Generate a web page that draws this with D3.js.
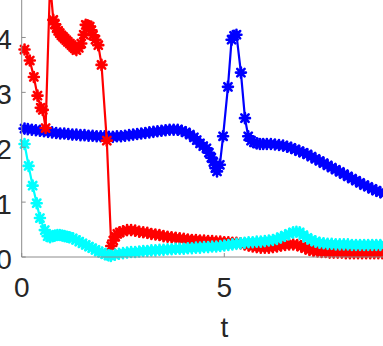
<!DOCTYPE html>
<html>
<head>
<meta charset="utf-8">
<script src="https://cdn.jsdelivr.net/npm/d3@7"></script>
<style>
  html, body { margin: 0; padding: 0; background: #fff; overflow: hidden; }
  svg { display: block; }
  .tick-label { font-family: "Liberation Sans", Arial, sans-serif; font-size: 28px; fill: #262626; }
</style>
</head>
<body>
<div id="chart"></div>
<script>
// tick values
const xTicks = [0, 5];
const yTicks = [0, 1, 2, 3, 4];
const xLabel = 't';

// blue series
const blueT = [0.07, 0.15, 0.25, 0.35, 0.45, 0.55, 0.65, 0.75, 0.85, 0.95, 1.05, 1.15, 1.25, 1.35, 1.45, 1.55, 1.65, 1.75, 1.85, 1.95,
  2.05, 2.15, 2.25, 2.35, 2.45, 2.55, 2.65, 2.75, 2.85, 2.95, 3.05, 3.15, 3.25, 3.35, 3.45, 3.55, 3.65, 3.75, 3.85, 3.95,
  4.05, 4.15, 4.25, 4.32, 4.4, 4.48, 4.56, 4.62, 4.68, 4.73, 4.78, 4.82, 4.89, 4.97, 5.09, 5.18, 5.24, 5.3, 5.41, 5.51, 5.59,
  5.66, 5.73, 5.8, 5.88, 5.96, 6.05, 6.15, 6.25, 6.35, 6.45, 6.55, 6.65, 6.75, 6.85, 6.95, 7.05, 7.15, 7.25, 7.35, 7.45,
  7.55, 7.65, 7.75, 7.85, 7.95, 8.05, 8.15, 8.25, 8.35, 8.45, 8.55, 8.65, 8.75, 8.85, 8.95, 9.05];
const blueY = [2.34, 2.33, 2.32, 2.31, 2.3, 2.29, 2.28, 2.27, 2.26, 2.25, 2.25, 2.24, 2.23, 2.23, 2.22, 2.22, 2.21, 2.21, 2.2, 2.2,
  2.2, 2.19, 2.19, 2.2, 2.2, 2.21, 2.22, 2.23, 2.24, 2.25, 2.26, 2.27, 2.28, 2.29, 2.3, 2.31, 2.32, 2.32, 2.32, 2.3,
  2.27, 2.23, 2.18, 2.13, 2.07, 2.02, 1.98, 1.9, 1.81, 1.73, 1.62, 1.56, 1.68, 2.2, 3.1, 3.96, 4.03, 4.05, 3.36, 2.53, 2.2,
  2.12, 2.09, 2.07, 2.06, 2.06, 2.06, 2.06, 2.05, 2.04, 2.03, 2.01, 1.99, 1.96, 1.93, 1.9, 1.87, 1.83, 1.79, 1.75, 1.71,
  1.67, 1.63, 1.59, 1.55, 1.51, 1.47, 1.43, 1.39, 1.35, 1.31, 1.28, 1.24, 1.21, 1.18, 1.16, 1.14];

// red series
const redT = [0.07, 0.2, 0.3, 0.39, 0.47, 0.52, 0.59, 0.7, 0.78, 0.82, 0.86, 0.9, 0.94, 0.98, 1.02, 1.06, 1.1, 1.14, 1.19, 1.23,
  1.27, 1.31, 1.35, 1.41, 1.47, 1.53, 1.58, 1.63, 1.68, 1.72, 1.76, 1.82, 1.89, 1.97, 2.1, 2.21, 2.26, 2.31, 2.36, 2.42,
  2.5, 2.6, 2.7, 2.8, 2.9, 3.0, 3.1, 3.2, 3.3, 3.4, 3.5, 3.6, 3.7, 3.8, 3.9, 4.0, 4.1, 4.2, 4.3, 4.4, 4.5, 4.6, 4.7,
  4.8, 4.9, 5.0, 5.1, 5.2, 5.3, 5.4, 5.5, 5.6, 5.7, 5.8, 5.9, 6.0, 6.1, 6.2, 6.3, 6.4, 6.5, 6.6, 6.7, 6.8, 6.9, 7.0,
  7.1, 7.2, 7.3, 7.4, 7.5, 7.6, 7.7, 7.8, 7.9, 8.0, 8.1, 8.2, 8.3, 8.4, 8.5, 8.6, 8.7, 8.8, 8.9, 9.0];
const redY = [3.78, 3.58, 3.28, 2.94, 2.72, 2.68, 2.35, 5.0, 4.32, 4.24, 4.17, 4.12, 4.08, 4.04, 4.01, 3.98, 3.95, 3.92, 3.89, 3.86,
  3.83, 3.8, 3.77, 3.81, 3.89, 4.05, 4.23, 4.22, 4.2, 4.13, 4.04, 3.96, 3.86, 3.5, 2.12, 0.2, 0.3, 0.37, 0.42, 0.45,
  0.47, 0.49, 0.49, 0.48, 0.46, 0.45, 0.44, 0.42, 0.41, 0.4, 0.38, 0.37, 0.36, 0.35, 0.34, 0.33, 0.32, 0.31, 0.31, 0.3, 0.3, 0.29, 0.29,
  0.28, 0.28, 0.27, 0.27, 0.26, 0.26, 0.25, 0.23, 0.21, 0.19, 0.18, 0.17, 0.17, 0.17, 0.18, 0.19, 0.21, 0.22, 0.23, 0.23, 0.22, 0.19, 0.16,
  0.13, 0.11, 0.1, 0.09, 0.09, 0.08, 0.08, 0.08, 0.08, 0.07, 0.07, 0.07, 0.07, 0.07, 0.07, 0.07, 0.07, 0.07, 0.07, 0.07];

// cyan series
const cyanT = [0.07, 0.17, 0.27, 0.37, 0.45, 0.57, 0.64, 0.7, 0.76, 0.82, 0.88, 0.94, 1.0, 1.06, 1.12, 1.18, 1.26, 1.34, 1.42, 1.5,
  1.58, 1.66, 1.74, 1.82, 1.9, 1.98, 2.06, 2.14, 2.2, 2.3, 2.4, 2.5, 2.6, 2.7, 2.8, 2.9, 3.0, 3.1, 3.2, 3.3, 3.4, 3.5,
  3.6, 3.7, 3.8, 3.9, 4.0, 4.1, 4.2, 4.3, 4.4, 4.5, 4.6, 4.7, 4.8, 4.9, 5.0, 5.1, 5.2, 5.3, 5.4, 5.5, 5.6, 5.7, 5.8,
  5.9, 6.0, 6.1, 6.2, 6.3, 6.4, 6.5, 6.6, 6.7, 6.78, 6.86, 6.95, 7.05, 7.15, 7.25, 7.35, 7.45, 7.55, 7.65, 7.75, 7.85,
  7.95, 8.05, 8.15, 8.25, 8.35, 8.45, 8.55, 8.65, 8.75, 8.85, 8.95, 9.05];
const cyanY = [2.06, 1.66, 1.3, 0.98, 0.71, 0.49, 0.38, 0.36, 0.38, 0.39, 0.4, 0.4, 0.39, 0.38, 0.37, 0.36, 0.34, 0.31, 0.28, 0.25,
  0.22, 0.19, 0.16, 0.13, 0.1, 0.08, 0.05, 0.03, 0.02, 0.04, 0.06, 0.07, 0.08, 0.09, 0.09, 0.1, 0.11, 0.11, 0.12, 0.12, 0.13, 0.13,
  0.14, 0.14, 0.15, 0.15, 0.15, 0.16, 0.16, 0.17, 0.17, 0.18, 0.18, 0.19, 0.19, 0.2, 0.21, 0.22, 0.23, 0.24, 0.25, 0.26, 0.27, 0.27, 0.28,
  0.28, 0.29, 0.3, 0.31, 0.33, 0.36, 0.39, 0.42, 0.45, 0.46, 0.45, 0.4, 0.35, 0.31, 0.28, 0.26, 0.25, 0.24, 0.24, 0.23, 0.23,
  0.23, 0.23, 0.22, 0.22, 0.22, 0.22, 0.22, 0.22, 0.22, 0.22, 0.22, 0.22];

const W = 383, H = 346;
const svg = d3.select('#chart').append('svg')
  .attr('width', W).attr('height', H);

// axes box: t=0 at x 21.7, t=5 at 224.3 ; y=0 at 257, y=4 at 37.5
let xScale = d3.scaleLinear().domain([0, 10]).range([21.7, 426.9]);
let yScale = d3.scaleLinear().domain([0, 5]).range([257, -17.4]);

const axisColor = '#8c8c8c';

// draw series (blue, red, cyan order)
const series = [
  { t: blueT, y: blueY, color: '#0000ff' },
  { t: redT, y: redY, color: '#ff0000' },
  { t: cyanT, y: cyanY, color: '#00ffff' }
];

// MATLAB-ish '*' marker: plus + cross
const r = 5, rd = r * 0.74;
const starPath = `M${-r},0H${r}M0,${-r}V${r}M${-rd},${-rd}L${rd},${rd}M${-rd},${rd}L${rd},${-rd}`;

const line = d3.line()
  .x(d => xScale(d[0]))
  .y(d => yScale(d[1]));

series.forEach(s => {
  const pts = s.t.map((t, i) => [t, s.y[i]]);
  const g = svg.append('g');
  g.append('path')
    .datum(pts)
    .attr('d', line)
    .attr('fill', 'none')
    .attr('stroke', s.color)
    .attr('stroke-width', 2.2)
    .attr('stroke-linejoin', 'round');
  g.selectAll('path.mk')
    .data(pts)
    .enter().append('path')
    .attr('class', 'mk')
    .attr('d', starPath)
    .attr('transform', d => `translate(${xScale(d[0])},${yScale(d[1])})`)
    .attr('fill', 'none')
    .attr('stroke', s.color)
    .attr('stroke-width', 2.6)
    .attr('stroke-linecap', 'round');
});

// axes lines
const x0 = xScale(0), y0 = yScale(0);
svg.append('line')
  .attr('x1', x0).attr('x2', W + 5).attr('y1', y0).attr('y2', y0)
  .attr('stroke', axisColor).attr('stroke-width', 1);
svg.append('line')
  .attr('x1', x0).attr('x2', x0).attr('y1', -5).attr('y2', y0)
  .attr('stroke', axisColor).attr('stroke-width', 1);

// ticks (pointing inward)
svg.selectAll('line.xt').data(xTicks).enter().append('line')
  .attr('x1', d => xScale(d)).attr('x2', d => xScale(d))
  .attr('y1', y0).attr('y2', y0 - 4)
  .attr('stroke', axisColor);
svg.selectAll('line.yt').data(yTicks).enter().append('line')
  .attr('x1', x0).attr('x2', x0 + 4)
  .attr('y1', d => yScale(d)).attr('y2', d => yScale(d))
  .attr('stroke', axisColor);

// tick labels
svg.selectAll('text.xl').data(xTicks).enter().append('text')
  .attr('class', 'tick-label')
  .attr('x', d => xScale(d)).attr('y', y0 + 40)
  .attr('text-anchor', 'middle')
  .text(d => d);
svg.selectAll('text.yl').data(yTicks).enter().append('text')
  .attr('class', 'tick-label')
  .attr('x', x0 - 10).attr('y', d => yScale(d) + 12)
  .attr('text-anchor', 'end')
  .text(d => d);

// axis label
svg.append('text')
  .attr('class', 'tick-label')
  .attr('x', xScale(5)).attr('y', 337)
  .attr('text-anchor', 'middle')
  .text(xLabel);
</script>
</body>
</html>
